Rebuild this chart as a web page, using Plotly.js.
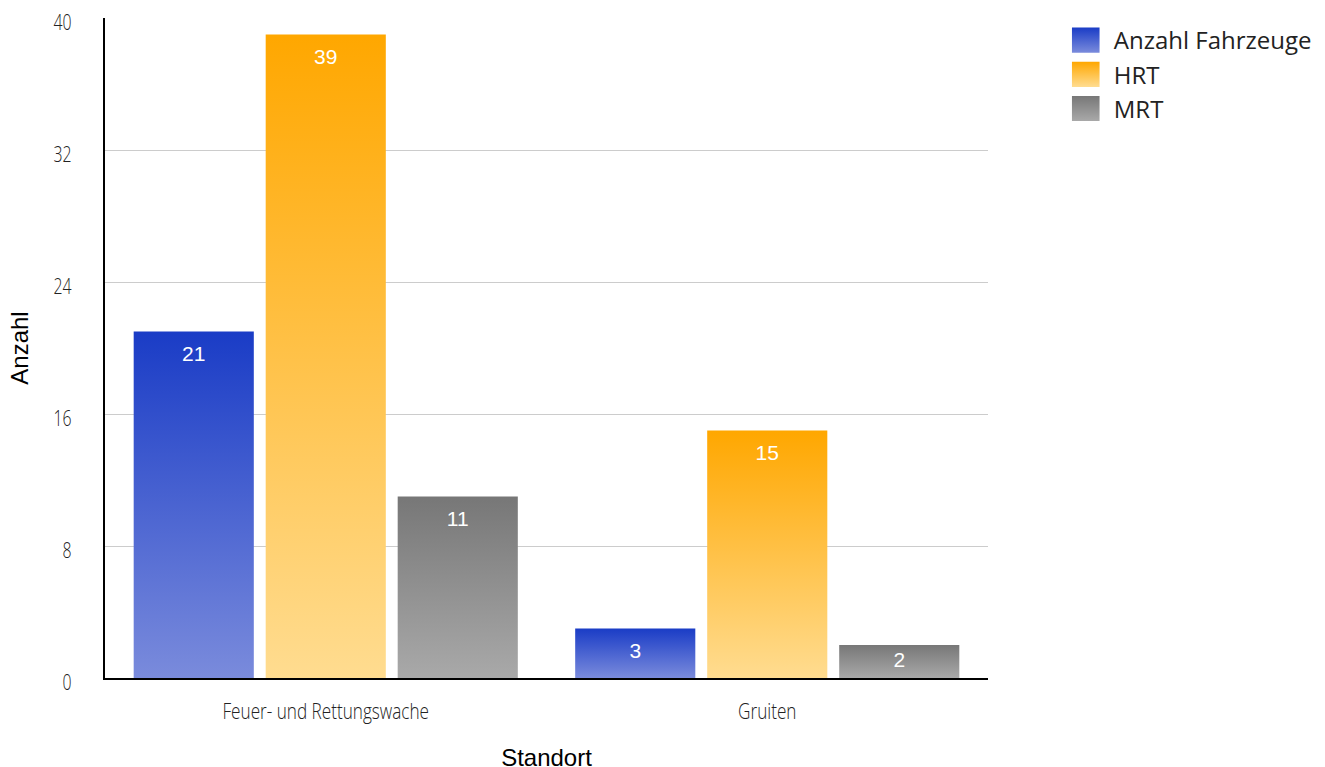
<!DOCTYPE html>
<html>
<head>
<meta charset="utf-8">
<script src="https://cdn.plot.ly/plotly-3.0.1.min.js"></script>
<style>html,body{margin:0;padding:0;background:#fff;}</style>
</head>
<body>
<svg width="0" height="0" style="position:absolute">
  <defs>
    <linearGradient id="g0" x1="0" y1="0" x2="0" y2="1">
      <stop offset="0" stop-color="#1a3cc6"/><stop offset="1" stop-color="#7a8bdc"/>
    </linearGradient>
    <linearGradient id="g1" x1="0" y1="0" x2="0" y2="1">
      <stop offset="0" stop-color="#ffa700"/><stop offset="1" stop-color="#ffdc90"/>
    </linearGradient>
    <linearGradient id="g2" x1="0" y1="0" x2="0" y2="1">
      <stop offset="0" stop-color="#777777"/><stop offset="1" stop-color="#a9a9a9"/>
    </linearGradient>
  </defs>
</svg>
<div id="chart" style="width:1325px;height:767px;"></div>
<script>
const categories = ["Feuer- und Rettungswache", "Gruiten"];
const seriesNames = ["Anzahl Fahrzeuge", "HRT", "MRT"];
const anzahlFahrzeuge = [21, 3];
const hrt = [39, 15];
const mrt = [11, 2];
const yTicks = [0, 8, 16, 24, 32, 40];
const baseColors = ["#3a57cf", "#ffbf40", "#8e8e8e"];

const seriesValues = [anzahlFahrzeuge, hrt, mrt];
const traces = seriesValues.map((vals, i) => ({
  type: "bar",
  name: seriesNames[i],
  legendgroup: "g" + i,
  x: categories,
  y: vals,
  text: vals.map(String),
  textposition: "inside",
  insidetextanchor: "end",
  textangle: 0,
  textfont: {family: "Liberation Sans, Arial, sans-serif", size: 21, color: "#ffffff"},
  marker: {color: baseColors[i], line: {width: 0}},
  hoverinfo: "none"
}));

const tickFont = {family: "Open Sans, sans-serif", size: 22, color: "#222", weight: 300};

const layout = {
  width: 1325, height: 767,
  margin: {l: 105, r: 337, t: 18, b: 89, autoexpand: false},
  paper_bgcolor: "#ffffff", plot_bgcolor: "#ffffff",
  barmode: "group",
  bargap: 0.103,
  bargroupgap: 0.09,
  showlegend: true,
  legend: {
    x: 1.079, xanchor: "left", y: 1.0, yanchor: "top",
    font: {family: "Open Sans, sans-serif", size: 24, color: "#222"},
    itemwidth: 46, tracegroupgap: 3, traceorder: "normal"
  },
  xaxis: {
    type: "category",
    showline: true, linecolor: "#000", linewidth: 2,
    showgrid: false, ticks: "", zeroline: false,
    automargin: false,
    tickfont: tickFont,
    ticklabelstandoff: 13,
    title: {text: "Standort", font: {family: "Liberation Sans, Arial, sans-serif", size: 24, color: "#000"}, standoff: 32}
  },
  yaxis: {
    range: [0, 40],
    tickvals: yTicks,
    ticktext: yTicks.map(String),
    showline: true, linecolor: "#000", linewidth: 2,
    showgrid: true, gridcolor: "#cccccc", gridwidth: 1,
    zeroline: false, ticks: "",
    automargin: false,
    tickfont: tickFont,
    ticklabelstandoff: 27,
    title: {text: "Anzahl", font: {family: "Liberation Sans, Arial, sans-serif", size: 24, color: "#000"}, standoff: 11}
  },
  font: {family: "Liberation Sans, Arial, sans-serif"}
};

function condense(t, s, dy) {
  const ax = parseFloat(t.getAttribute("x") || "0");
  const tr = t.getAttribute("transform") || "";
  t.setAttribute("transform", tr + " translate(" + ax + "," + dy + ") scale(" + s + ",1) translate(" + (-ax) + ",0)");
}

Plotly.newPlot("chart", traces, layout, {displayModeBar: false, staticPlot: true}).then(gd => {
  gd.querySelectorAll(".xtick text").forEach(t => condense(t, 0.78, 0));
  gd.querySelectorAll(".ytick text").forEach(t => condense(t, 0.72, 4));
  const xtText = gd.querySelector(".g-xtitle text");
  if (xtText) {
    const tr = xtText.getAttribute("transform") || "";
    xtText.setAttribute("transform", "translate(0,4) " + tr);
  }
  const bTraces = gd.querySelectorAll(".barlayer .trace");
  bTraces.forEach((t, i) => {
    t.querySelectorAll(".point").forEach(pt => {
      const p = pt.querySelector("path");
      if (p) p.style.fill = "url(#g" + i + ")";
      const tx = pt.querySelector("text");
      if (p && tx) {
        const h = p.getBBox().height;
        if (h > 45) {
          const tr = tx.getAttribute("transform") || "";
          tx.setAttribute("transform", "translate(0,7) " + tr);
        }
      }
    });
  });
  const lTraces = gd.querySelectorAll(".legend .traces");
  lTraces.forEach((t, i) => {
    t.querySelectorAll(".legendpoints path").forEach(p => {
      p.style.fill = "url(#g" + i + ")";
      p.style.stroke = "none";
      p.setAttribute("transform", (p.getAttribute("transform") || "") + " scale(2.3,2.1)");
    });
  });
});
</script>
</body>
</html>
